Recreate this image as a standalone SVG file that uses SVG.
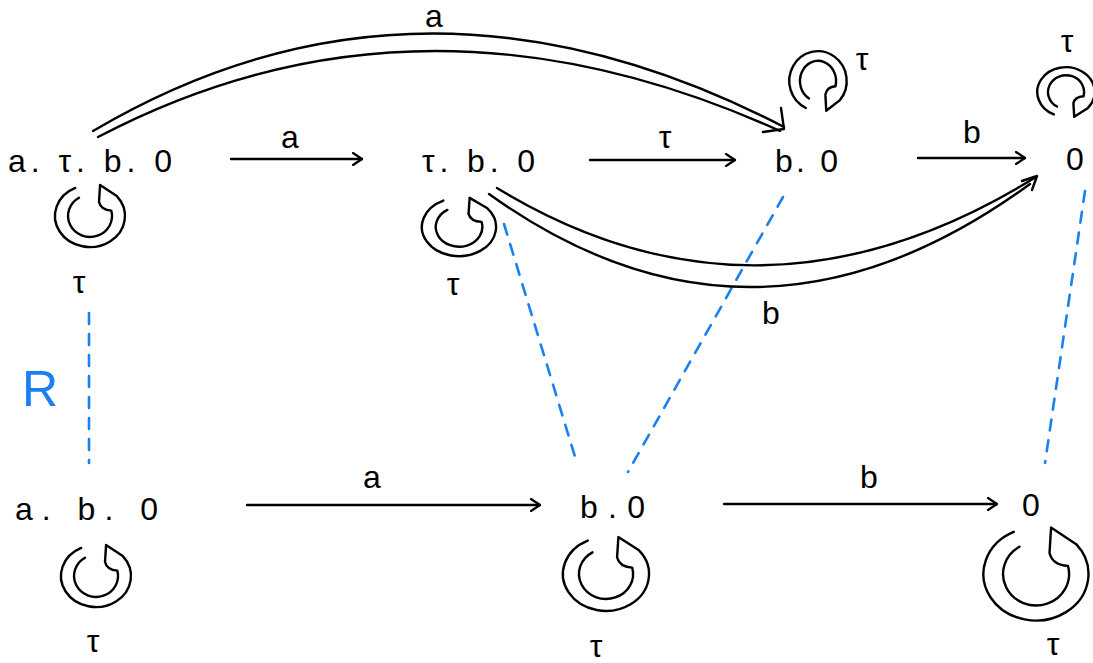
<svg xmlns="http://www.w3.org/2000/svg" xmlns:xlink="http://www.w3.org/1999/xlink" width="1093" height="663" viewBox="0 0 1093 663">
<style>
.ln{stroke:#000;stroke-width:2.4;fill:none;stroke-linecap:round;stroke-linejoin:round}
.rel{stroke:#1a80f0;stroke-width:2.6;fill:none;stroke-dasharray:11 10;stroke-linecap:round}
.t{font-family:"Liberation Sans","DejaVu Sans",sans-serif;font-size:32px;fill:#000}
.lb{font-family:"Liberation Sans","DejaVu Sans",sans-serif;font-size:32px;fill:#000;text-anchor:middle}
.r{font-family:"Liberation Sans","DejaVu Sans",sans-serif;font-size:50px;fill:#1a80f0;text-anchor:middle}
</style>
<defs>
<marker id="ah" markerWidth="12" markerHeight="14" refX="11" refY="7" orient="auto" markerUnits="userSpaceOnUse">
<path d="M2,1 L11,7 L2,13" fill="none" stroke="#000" stroke-width="2.2" stroke-linecap="round" stroke-linejoin="round"/>
</marker>
<path id="loop" class="ln" vector-effect="non-scaling-stroke" d="M-14.8,-28.1 A35,31 0 1 0 26.8,-19.9 L10,-31 M-11,-18.2 A22,21 0 1 0 21.3,-5.4 Q11,-6 9,-14 L10,-30"/>
</defs>
<rect width="1093" height="663" fill="#fff"/>

<g id="relation">
<path class="rel" d="M89,313 L89,463"/>
<path class="rel" d="M504,224 L576,460"/>
<path class="rel" d="M783,197 L628,472"/>
<path class="rel" d="M1085,191 L1045,463"/>
<text class="r" x="40" y="406">R</text>
</g>

<g id="connectors">
<path class="ln" d="M231,159 L362,159" marker-end="url(#ah)"/>
<text class="lb" x="290" y="148">a</text>
<path class="ln" d="M590,160 L735,160" marker-end="url(#ah)"/>
<text class="lb" x="665" y="148">τ</text>
<path class="ln" d="M918,158 L1025,158" marker-end="url(#ah)"/>
<text class="lb" x="972" y="143">b</text>
<path class="ln" d="M247,505 L540,505" marker-end="url(#ah)"/>
<text class="lb" x="372" y="488">a</text>
<path class="ln" d="M724,504 L997,504" marker-end="url(#ah)"/>
<text class="lb" x="869" y="488">b</text>

<path class="ln" d="M93,131 Q420,-62 784,127"/>
<path class="ln" d="M98,137 Q420,-32 780,131"/>
<path class="ln" d="M781,108 L784,129 L763,132"/>
<text class="lb" x="434" y="27">a</text>

<path class="ln" d="M497,188 Q760,348 1036,177"/>
<path class="ln" d="M489,194 Q755,385 1030,184"/>
<path class="ln" d="M1022,181 L1037,176 L1032,190"/>
<text class="lb" x="771" y="324">b</text>

<use xlink:href="#loop" transform="translate(90,216)"/>
<text class="lb" x="79" y="293">τ</text>
<use xlink:href="#loop" transform="translate(459,227) scale(1.06,0.94)"/>
<text class="lb" x="453" y="295">τ</text>
<use xlink:href="#loop" transform="translate(818,81) scale(0.82,-0.96)"/>
<text class="lb" x="862" y="70">τ</text>
<use xlink:href="#loop" transform="translate(1066,92) scale(0.82,-0.8)"/>
<text class="lb" x="1067" y="52">τ</text>
<use xlink:href="#loop" transform="translate(96,576)"/>
<text class="lb" x="93" y="652">τ</text>
<use xlink:href="#loop" transform="translate(606,574) scale(1.23,1.19)"/>
<text class="lb" x="596" y="657">τ</text>
<use xlink:href="#loop" transform="translate(1036,574) scale(1.5,1.5)"/>
<text class="lb" x="1053" y="655">τ</text>
</g>

<g id="n1"><text class="t" x="8" y="172" textLength="164" lengthAdjust="spacing">a. τ. b. 0</text></g>
<g id="n2"><text class="t" x="422" y="172" textLength="113" lengthAdjust="spacing">τ. b. 0</text></g>
<g id="n3"><text class="t" x="775" y="172" textLength="63" lengthAdjust="spacing">b. 0</text></g>
<g id="n4"><text class="t" x="1066" y="170">0</text></g>
<g id="m1"><text class="t" x="15" y="520" textLength="143" lengthAdjust="spacing">a. b. 0</text></g>
<g id="m2"><text class="t" x="580" y="518" textLength="65" lengthAdjust="spacing">b.0</text></g>
<g id="m3"><text class="t" x="1022" y="516">0</text></g>
</svg>
